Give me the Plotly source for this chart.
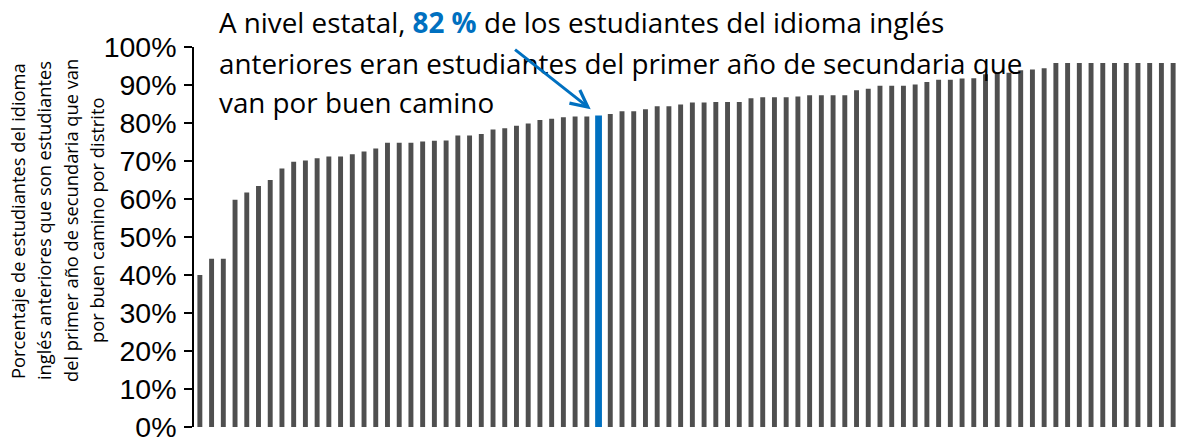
import plotly.graph_objects as go

# Share of former English learners on track in 9th grade, one bar per district (sorted)
district_rates = [
    40.0, 44.3, 44.3, 59.8, 61.7, 63.4, 65.0, 68.0, 69.8, 70.1,
    70.7, 71.2, 71.2, 71.8, 72.5, 73.3, 74.8, 74.8, 74.8, 75.1,
    75.3, 75.4, 76.7, 76.7, 77.1, 78.3, 78.6, 79.3, 79.9, 80.8,
    81.1, 81.5, 81.7, 81.7, 82.0, 82.4, 83.1, 83.1, 83.6, 84.4,
    84.4, 84.9, 85.4, 85.4, 85.5, 85.5, 85.5, 86.5, 86.8, 86.8,
    86.8, 87.0, 87.3, 87.3, 87.3, 87.3, 88.6, 89.0, 89.8, 89.8,
    89.8, 90.1, 90.8, 91.4, 91.4, 91.7, 91.8, 92.8, 93.2, 93.2,
    93.9, 94.1, 94.4, 95.8, 95.8, 95.8, 95.8, 95.8, 95.8, 95.8,
    95.8, 95.8, 95.8, 95.8,
]
state_index = 34          # position of the statewide bar
state_value = 82          # statewide rate (%)

y_ticks = [i / 10 for i in range(11)]
y_tick_labels = [f"{i * 10}%" for i in range(11)]

title_lines = [
    "A nivel estatal, <b><span style='color:#0070C0'>82 %</span></b> de los estudiantes del idioma inglés",
    "anteriores eran estudiantes del primer año de secundaria que",
    "van por buen camino",
]
axis_title_lines = [
    "Porcentaje de estudiantes del idioma",
    "inglés anteriores que son estudiantes",
    "del primer año de secundaria que van",
    "por buen camino por distrito",
]

GRAY = "#4F4F4F"
BLUE = "#0070C0"

values = [v / 100 for v in district_rates]
values[state_index] = state_value / 100
x = list(range(len(values)))
colors = [BLUE if i == state_index else GRAY for i in x]
widths = [0.58 if i == state_index else 0.42 for i in x]

fig = go.Figure(
    go.Bar(x=x, y=values, marker=dict(color=colors, line=dict(width=0)),
           width=widths, hoverinfo="skip")
)

W, H = 1183, 438
L, R, T, B = 194, 4, 47, 11
pw, ph = W - L - R, H - T - B


def px_x(p):
    return (p - L) / pw


def px_y(p):
    return (H - B - p) / ph


annotations = []
for text, py in zip(title_lines, [22, 63, 102]):
    annotations.append(dict(
        text=text, xref="paper", yref="paper", x=px_x(217), y=px_y(py),
        xanchor="left", yanchor="middle", showarrow=False,
        font=dict(family="Open Sans", size=27.8, color="black"),
    ))

for text, cx in zip(axis_title_lines, [17, 43, 70, 96]):
    annotations.append(dict(
        text=text, xref="paper", yref="paper", x=px_x(cx), y=px_y(221),
        xanchor="center", yanchor="middle", textangle=-90, showarrow=False,
        font=dict(family="Open Sans", size=18.3, color="black"),
    ))

# arrow from the statement to the statewide bar
annotations.append(dict(
    x=state_index, y=state_value / 100, xref="x", yref="y", text="",
    showarrow=True, ax=-85, ay=-67, axref="pixel", ayref="pixel",
    arrowhead=5, arrowsize=1.1, arrowwidth=3, arrowcolor=BLUE, standoff=10,
))

fig.update_layout(
    width=W, height=H,
    margin=dict(l=L, r=R, t=T, b=B, pad=0, autoexpand=False),
    plot_bgcolor="white", paper_bgcolor="white",
    showlegend=False,
    annotations=annotations,
    xaxis=dict(range=[-0.5, len(values) - 0.5], showticklabels=False,
               showgrid=False, zeroline=False, showline=False, ticks="",
               automargin=False),
    yaxis=dict(range=[0, 1], tickvals=y_ticks, ticktext=y_tick_labels,
               showgrid=False, zeroline=False, showline=True,
               linecolor="black", linewidth=1.5, ticks="outside",
               ticklen=8, tickwidth=1.5, tickcolor="black",
               ticklabelstandoff=2, ticklabeloverflow="allow",
               automargin=False,
               tickfont=dict(family="Liberation Sans", size=28.5, color="black")),
)

fig.write_html("out.html")
